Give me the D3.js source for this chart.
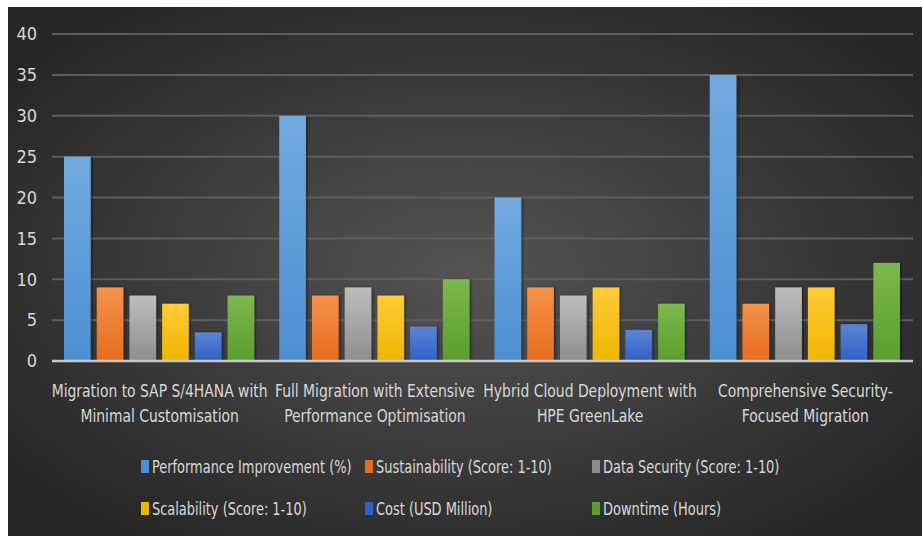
<!DOCTYPE html>
<html>
<head>
<meta charset="utf-8">
<script src="https://cdn.jsdelivr.net/npm/d3@7"></script>
<style>
  body { margin: 0; background: #fff; }
  text { font-family: "DejaVu Sans Condensed", "Liberation Sans Narrow", sans-serif; }
</style>
</head>
<body>
<svg id="chart" width="922" height="536"></svg>
<script>
const categories = [
  ["Migration to SAP S/4HANA with", "Minimal Customisation"],
  ["Full Migration with Extensive", "Performance Optimisation"],
  ["Hybrid Cloud Deployment with", "HPE GreenLake"],
  ["Comprehensive Security-", "Focused Migration"]
];
const seriesNames = [
  "Performance Improvement (%)",
  "Sustainability (Score: 1-10)",
  "Data Security (Score: 1-10)",
  "Scalability (Score: 1-10)",
  "Cost (USD Million)",
  "Downtime (Hours)"
];
const performance = [25, 30, 20, 35];
const sustainability = [9, 8, 9, 7];
const dataSecurity = [8, 9, 8, 9];
const scalability = [7, 8, 9, 9];
const cost = [3.5, 4.2, 3.8, 4.5];
const downtime = [8, 10, 7, 12];
const yTicks = [0, 5, 10, 15, 20, 25, 30, 35, 40];

const seriesValues = [performance, sustainability, dataSecurity, scalability, cost, downtime];
// top / bottom colours of each bar gradient
const colors = [
  ["#72aae0", "#4d8fd2"],
  ["#f5924a", "#e66c1c"],
  ["#bdbdbd", "#8e8e8e"],
  ["#ffcb3a", "#efb500"],
  ["#5d84d8", "#3060c4"],
  ["#7cb84d", "#5a9e2f"]
];

const W = 922, H = 536;
const plot = {left: 52, right: 913, top: 34, bottom: 361};

const svg = d3.select("#chart");
const defs = svg.append("defs");

const bg = defs.append("radialGradient")
  .attr("id", "bg").attr("cx", "50%").attr("cy", "50%").attr("r", "62%");
bg.append("stop").attr("offset", "0%").attr("stop-color", "#545454");
bg.append("stop").attr("offset", "100%").attr("stop-color", "#262626");

colors.forEach((c, i) => {
  const g = defs.append("linearGradient").attr("id", "bar" + i)
    .attr("x1", 0).attr("y1", 0).attr("x2", 0).attr("y2", 1);
  g.append("stop").attr("offset", "0%").attr("stop-color", c[0]);
  g.append("stop").attr("offset", "100%").attr("stop-color", c[1]);
});

const shadow = defs.append("filter").attr("id", "shadow")
  .attr("x", "-20%").attr("y", "-10%").attr("width", "150%").attr("height", "120%");
shadow.append("feDropShadow").attr("dx", 1.5).attr("dy", 0).attr("stdDeviation", 1.2)
  .attr("flood-color", "#000").attr("flood-opacity", 0.45);

svg.append("rect")
  .attr("x", 8).attr("y", 7).attr("width", W - 8).attr("height", H - 7)
  .attr("fill", "url(#bg)");

const y = d3.scaleLinear().domain([0, 40]).range([plot.bottom, plot.top]);
const x0 = d3.scaleBand().domain(d3.range(categories.length)).range([plot.left, plot.right]);
const x1 = d3.scaleBand().domain(d3.range(seriesNames.length))
  .range([12, x0.bandwidth() - 13]).paddingInner(0.185);

// gridlines
svg.append("g")
  .selectAll("line")
  .data(yTicks.filter(t => t > 0))
  .join("line")
  .attr("x1", plot.left).attr("x2", plot.right)
  .attr("y1", d => y(d)).attr("y2", d => y(d))
  .attr("stroke", "#5e5e5e").attr("stroke-width", 2);

// y axis labels
const yAxis = svg.append("g")
  .attr("transform", `translate(${plot.left},0)`)
  .call(d3.axisLeft(y).tickValues(yTicks).tickSize(0).tickPadding(15));
yAxis.select(".domain").remove();
yAxis.selectAll("text")
  .attr("fill", "#d9d9d9")
  .attr("font-size", "18px")
  .attr("font-family", "DejaVu Sans Condensed, sans-serif");

// bars
const groups = svg.append("g").selectAll("g")
  .data(categories.map((c, i) => i))
  .join("g")
  .attr("transform", i => `translate(${x0(i)},0)`);

groups.selectAll("rect")
  .data(ci => seriesValues.map((vals, si) => ({si, v: vals[ci]})))
  .join("rect")
  .attr("x", d => x1(d.si))
  .attr("width", x1.bandwidth())
  .attr("y", d => y(d.v))
  .attr("height", d => y(0) - y(d.v))
  .attr("fill", d => `url(#bar${d.si})`)
  .attr("filter", "url(#shadow)");

// baseline
svg.append("line")
  .attr("x1", plot.left).attr("x2", plot.right)
  .attr("y1", y(0)).attr("y2", y(0))
  .attr("stroke", "#c8c8c8").attr("stroke-width", 2.5);

// category labels (source font is narrow, so squeeze horizontally)
const catLabels = svg.append("g").selectAll("text")
  .data(categories)
  .join("text")
  .attr("transform", (d, i) => `translate(${x0(i) + x0.bandwidth() / 2},397) scale(0.86,1)`)
  .attr("text-anchor", "middle")
  .attr("fill", "#d9d9d9")
  .attr("font-size", "18px");
catLabels.selectAll("tspan")
  .data(d => d)
  .join("tspan")
  .attr("x", 0)
  .attr("y", (d, i) => i * 25)
  .text(d => d);

// legend
const legendCols = [141, 365, 592];
const legendRows = [467, 509];
const legend = svg.append("g").selectAll("g")
  .data(seriesNames)
  .join("g")
  .attr("transform", (d, i) => `translate(${legendCols[i % 3]},${legendRows[Math.floor(i / 3)]})`);
legend.append("rect")
  .attr("x", 0).attr("y", -7).attr("width", 8).attr("height", 13)
  .attr("fill", (d, i) => colors[i][1]);
legend.append("text")
  .attr("transform", "translate(11,6) scale(0.8,1)")
  .attr("fill", "#d9d9d9")
  .attr("font-size", "18px")
  .text(d => d);
</script>
</body>
</html>
